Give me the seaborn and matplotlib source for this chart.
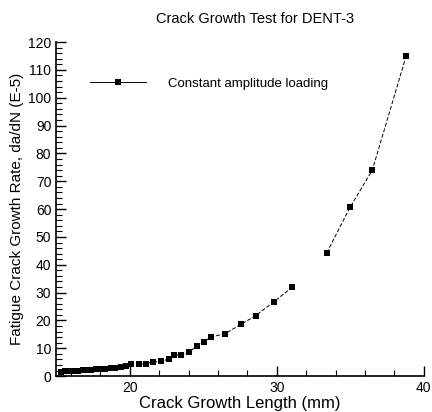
import pandas as pd
import seaborn as sns
import matplotlib.pyplot as plt
from matplotlib.lines import Line2D
from matplotlib.ticker import MultipleLocator

# crack length (mm) and growth rate (E-5), two runs of the test
length_a = [15.3, 15.6, 15.9, 16.2, 16.5, 16.8, 17.1, 17.4, 17.7, 18.0, 18.3,
            18.7, 19.0, 19.4, 19.75, 20.1, 20.6, 21.1, 21.6, 22.1, 22.7, 23.0,
            23.5, 24.0, 24.6, 25.06, 25.5, 26.5, 27.6, 28.56, 29.8, 31.05]
rate_a = [1.5, 1.7, 1.8, 1.9, 2.0, 2.1, 2.2, 2.3, 2.4, 2.5, 2.6,
          2.8, 3.0, 3.4, 3.8, 4.2, 4.3, 4.5, 5.1, 5.3, 6.2, 7.5,
          7.7, 8.5, 10.9, 12.3, 14.0, 15.3, 18.7, 21.7, 26.7, 31.9]
length_b = [33.4, 35.0, 36.5, 38.8]
rate_b = [44.3, 60.8, 74.0, 115.0]

df = pd.DataFrame({
    "length": length_a + length_b,
    "rate": rate_a + rate_b,
    "seg": ["a"] * len(length_a) + ["b"] * len(length_b),
})

plt.rcParams['font.family'] = ['Liberation Sans', 'DejaVu Sans']

fig = plt.figure(figsize=(4.32, 4.12), dpi=100)
ax = fig.add_axes([0.13, 0.087, 0.851, 0.811])

sns.lineplot(data=df, x="length", y="rate", units="seg", estimator=None,
             sort=False, color="black", lw=0.7, ls=(0, (4, 2)),
             marker="s", markersize=4, markeredgewidth=0, ax=ax)

ax.set_xlim(15, 40)
ax.set_ylim(0, 120)
ax.xaxis.set_major_locator(MultipleLocator(10))
ax.xaxis.set_minor_locator(MultipleLocator(2))
ax.yaxis.set_major_locator(MultipleLocator(10))
ax.yaxis.set_minor_locator(MultipleLocator(2))
ax.set_xticks([20, 30, 40])
ax.tick_params(which="major", direction="in", length=7, width=1, labelsize=10)
ax.tick_params(which="minor", direction="in", length=4, width=0.8)
for s in ["top", "right"]:
    ax.spines[s].set_visible(False)
for s in ["left", "bottom"]:
    ax.spines[s].set_linewidth(1.2)

ax.set_xlabel("Crack Growth Length (mm)", fontsize=12, labelpad=1)
ax.set_ylabel("Fatigue Crack Growth Rate, da/dN (E-5)", fontsize=11, labelpad=3)
fig.text(0.59, 0.955, "Crack Growth Test for DENT-3", ha="center", va="center", fontsize=10.5)

handle = Line2D([], [], color="black", lw=0.7, marker="s", markersize=4, markeredgewidth=0)
ax.legend([handle], ["Constant amplitude loading"], loc="upper left", frameon=False,
          bbox_to_anchor=(0.06, 0.93), handlelength=4.2, handletextpad=1.7, fontsize=9.5)

fig.savefig("out.png", dpi=100)
